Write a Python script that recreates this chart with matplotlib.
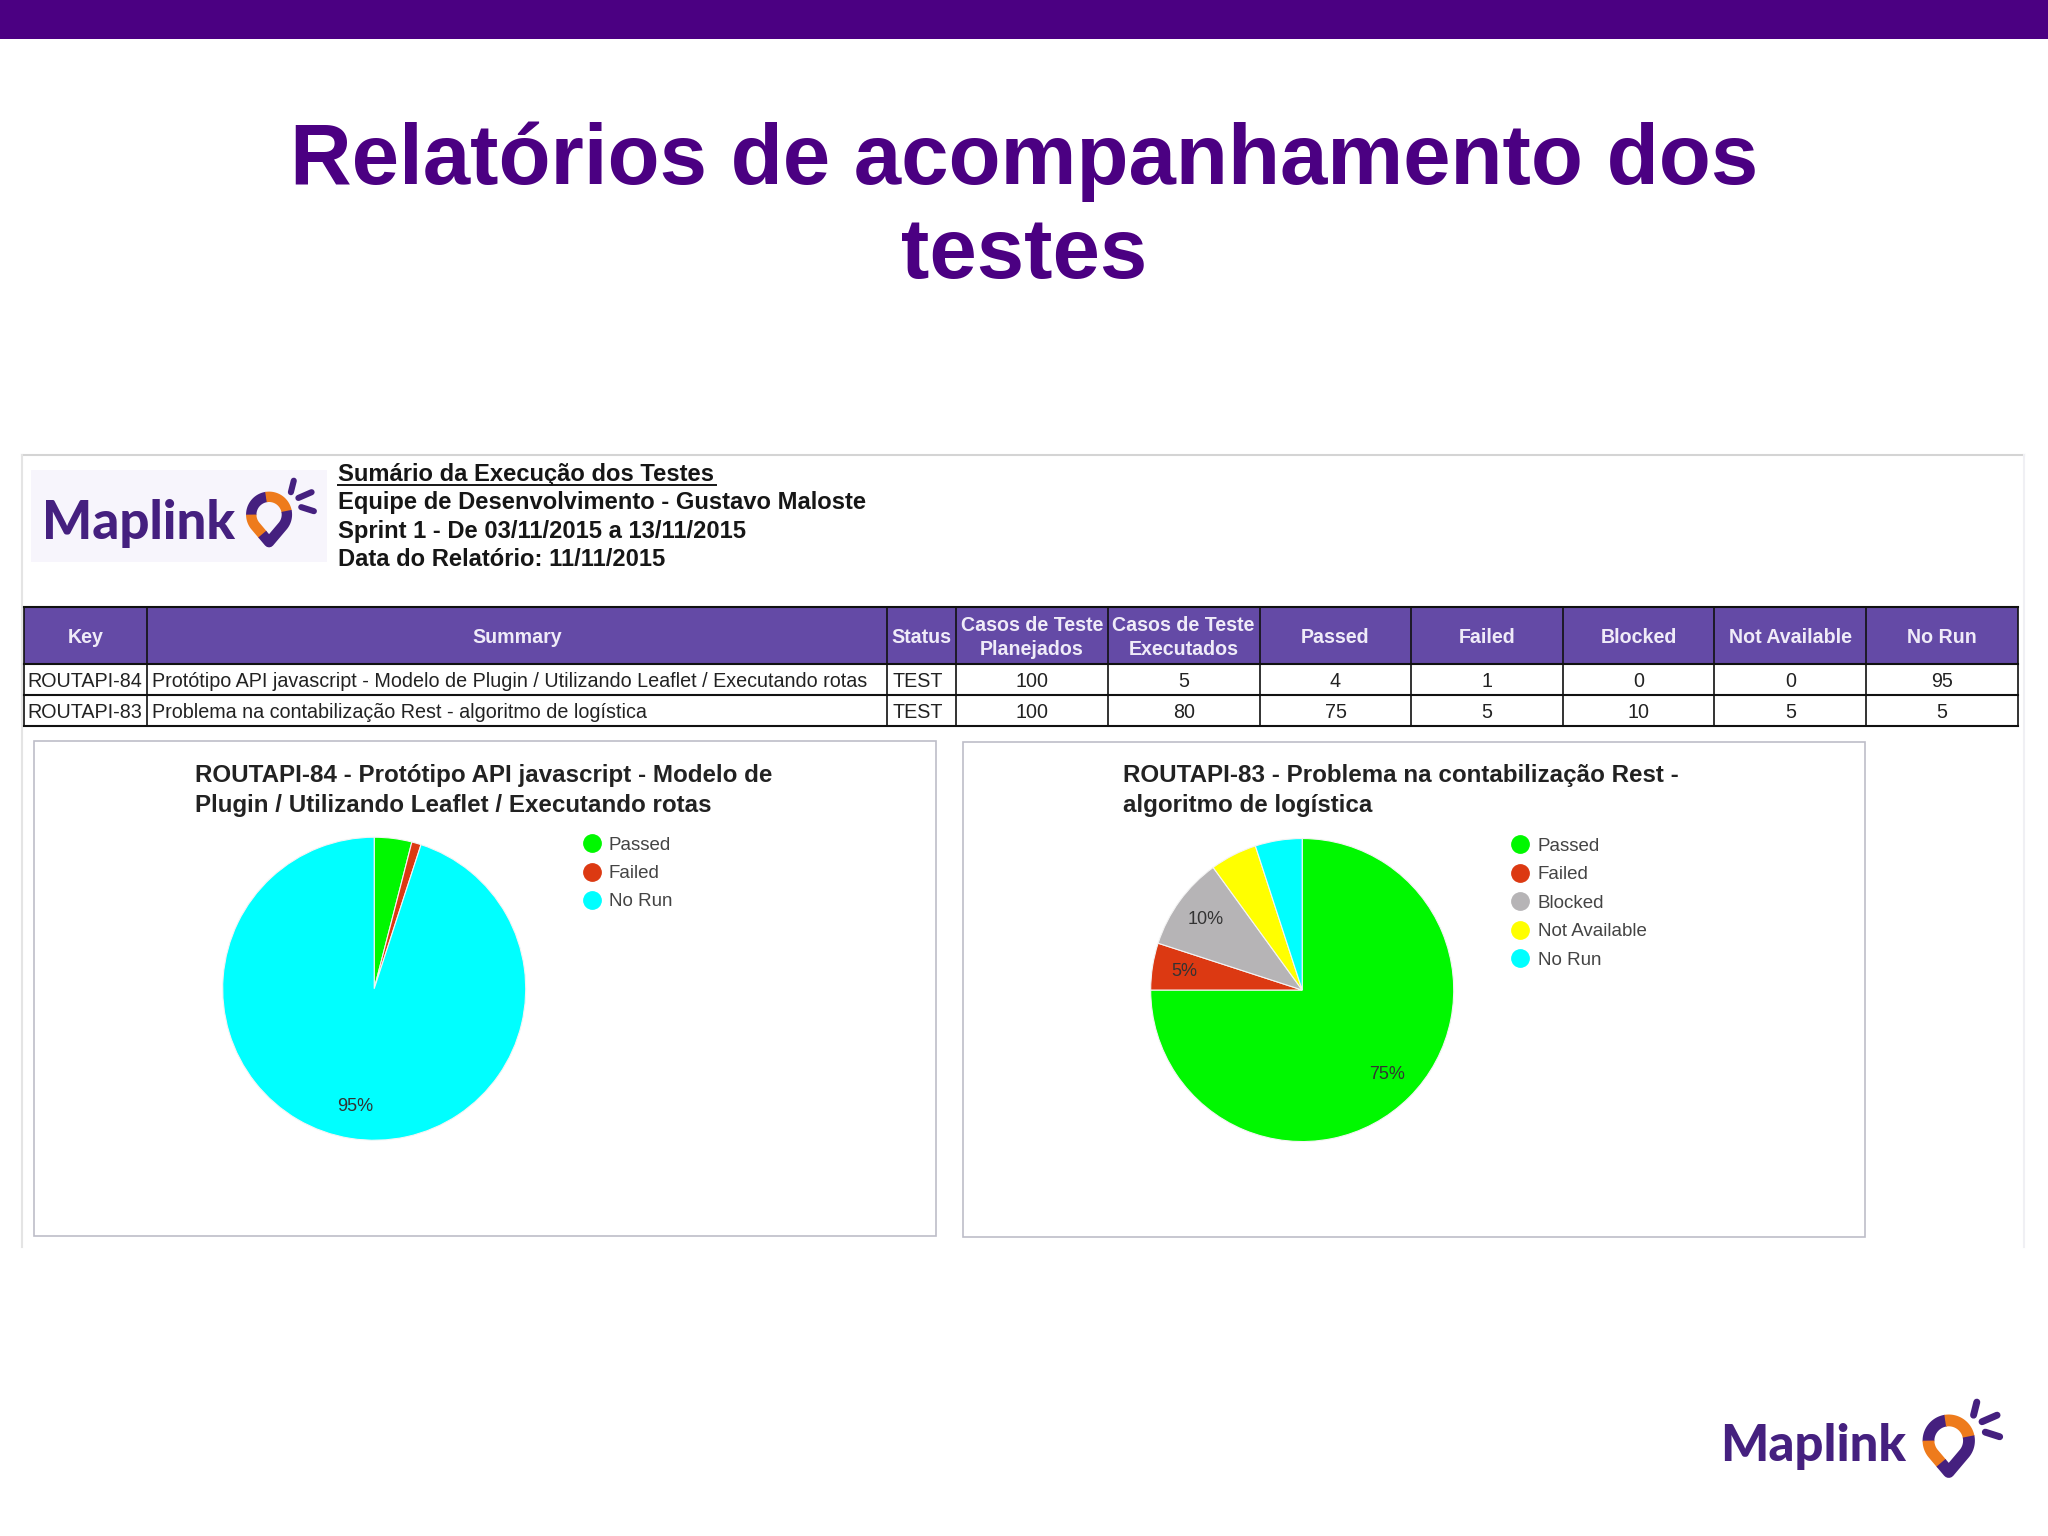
"""
slide with test report table and two pie charts
"""
import numpy as np
import matplotlib
matplotlib.use('Agg')
import matplotlib.pyplot as plt
from matplotlib.lines import Line2D
from matplotlib.patches import Rectangle

plt.rcParams['font.family'] = ['Liberation Sans', 'DejaVu Sans']

# text
slide_title = ['Relatórios de acompanhamento dos', 'testes']
report_lines = ['Sumário da Execução dos Testes',
                'Equipe de Desenvolvimento - Gustavo Maloste',
                'Sprint 1 - De 03/11/2015 a 13/11/2015',
                'Data do Relatório: 11/11/2015']
headers = ['Key', 'Summary', 'Status', 'Casos de Teste\nPlanejados', 'Casos de Teste\nExecutados',
           'Passed', 'Failed', 'Blocked', 'Not Available', 'No Run']
keys = ['ROUTAPI-84', 'ROUTAPI-83']
summaries = ['Protótipo API javascript - Modelo de Plugin / Utilizando Leaflet / Executando rotas',
             'Problema na contabilização Rest - algoritmo de logística']
statuses = ['TEST', 'TEST']
planned = [100, 100]
executed = [5, 80]
passed = [4, 75]
failed = [1, 5]
blocked = [0, 10]
not_available = [0, 5]
no_run = [95, 5]
chart_titles = ['ROUTAPI-84 - Protótipo API javascript - Modelo de\nPlugin / Utilizando Leaflet / Executando rotas',
                'ROUTAPI-83 - Problema na contabilização Rest -\nalgoritmo de logística']
status_names = ['Passed', 'Failed', 'Blocked', 'Not Available', 'No Run']
status_colors = ['#00F800', '#DC3912', '#B6B4B6', '#FFFF00', '#00FFFF']
# the slices that carry a percent label, per chart
labelled = [['No Run'], ['Passed', 'Failed', 'Blocked']]

PURPLE = '#4B0082'
LOGO = '#45207F'
ORANGE = '#EE7B1C'

W, H = 1568, 1176  # layout units, same shape as the figure
fig = plt.figure(figsize=(20.48, 15.36), dpi=100, facecolor='white')
ax = fig.add_axes([0, 0, 1, 1])
ax.set_xlim(0, W)
ax.set_ylim(H, 0)
ax.axis('off')


def rect(x0, y0, x1, y1, **kw):
    ax.add_patch(Rectangle((x0, y0), x1 - x0, y1 - y0, **kw))


def draw_logo(x0, base, size, cx, cy, s):
    ax.text(x0 - 2, base, 'Maplink', fontsize=size, fontweight='black', family='Lato',
            color=LOGO, ha='left', va='baseline')
    r = 15.5 * s
    tip = np.array([cx, cy + 24 * s])

    def arc(a0, a1):
        t = np.radians(np.linspace(a0, a1, 30))
        return np.column_stack([cx + r * np.sin(t), cy - r * np.cos(t)])

    def piece(pts, col):
        ax.plot(pts[:, 0], pts[:, 1], color=col, lw=8.5 * s, solid_capstyle='butt', solid_joinstyle='round')

    left = arc(230, 230)[0]
    piece(arc(268, 352), LOGO)
    piece(arc(350, 440), ORANGE)
    piece(np.vstack([tip + 0.45 * (left - tip), left, arc(230, 270)]), ORANGE)
    piece(np.vstack([arc(438, 490), tip, tip + 0.5 * (left - tip)]), LOGO)
    for a, b in [((21.5, -29.5), (19, -19.5)), ((25.5, -14.5), (37, -19.5)), ((28, -6.5), (39, -3))]:
        ax.plot([cx + a[0] * s, cx + b[0] * s], [cy + a[1] * s, cy + b[1] * s], color=LOGO,
                lw=5 * s, solid_capstyle='round')


# top band and title
rect(0, 0, W, 30, color=PURPLE, lw=0)
ax.text(784, 123.5, slide_title[0], fontsize=61.4, fontweight='bold', color=PURPLE, ha='center', va='center')
ax.text(784, 196, slide_title[1], fontsize=61.4, fontweight='bold', color=PURPLE, ha='center', va='center')

# screenshot edges
ax.plot([17, 1550], [348, 348], color='#D4D4D4', lw=1.5)
ax.plot([17, 17], [348, 955], color='#E4E4E4', lw=1.5)
ax.plot([1550, 1550], [348, 955], color='#F0F0F4', lw=1.5)

# report heading
rect(24, 360, 250, 430, color='#F7F5FC', lw=0)
draw_logo(34, 413, 38, 206, 394, 0.88)
for text, y in zip(report_lines, [363, 385, 407, 428.5]):
    ax.text(258.5, y, text, fontsize=17.1, fontweight='bold', color='#161616', ha='left', va='center')
ax.plot([259, 548], [371.5, 371.5], color='#161616', lw=1.4)

# table
col_x = [18, 112.5, 679, 732, 848, 964.5, 1080.5, 1196.5, 1312.5, 1429, 1545]
row_y = [465, 508, 532, 556]
rect(col_x[0], row_y[0], col_x[-1], row_y[1], facecolor='#644AA6', lw=0)
for x in col_x:
    ax.plot([x, x], [row_y[0], row_y[-1]], color='#111111', lw=1.2)
for y in row_y:
    ax.plot([col_x[0], col_x[-1]], [y, y], color='#111111', lw=1.5)
for i, h in enumerate(headers):
    ax.text((col_x[i] + col_x[i + 1]) / 2, 488, h, fontsize=14.1, fontweight='bold', color='#EFEBF8',
            ha='center', va='center', linespacing=1.33)

counts = np.array([planned, executed, passed, failed, blocked, not_available, no_run])
for r in range(len(keys)):
    yc = (row_y[r + 1] + row_y[r + 2]) / 2 + 1.5
    ax.text(21, yc, keys[r], fontsize=14.2, color='#222222', ha='left', va='center')
    ax.text(116.5, yc, summaries[r], fontsize=14.2, color='#222222', ha='left', va='center')
    ax.text(683.5, yc, statuses[r], fontsize=14.2, color='#222222', ha='left', va='center')
    for c in range(counts.shape[0]):
        ax.text((col_x[c + 3] + col_x[c + 4]) / 2, yc, str(counts[c, r]), fontsize=14.2, color='#222222',
                ha='center', va='center')

# charts
frames = [(26, 567, 717, 946), (737, 568, 1428, 947)]
centers = [(286.5, 757), (997, 758)]
title_pos = [(149, 605), (859.5, 605.5)]
legend_pos = [(443, 640.5), (1154, 641.5)]
radius = 116
for i in range(2):
    x0, y0, x1, y1 = frames[i]
    rect(x0, y0, x1, y1, facecolor='none', edgecolor='#BDBDC8', lw=1.2)
    ax.text(title_pos[i][0], title_pos[i][1], chart_titles[i], fontsize=17.4, fontweight='bold', color='#222222',
            ha='left', va='center', linespacing=1.38)

    values = [passed[i], failed[i], blocked[i], not_available[i], no_run[i]]
    names = [n for n, v in zip(status_names, values) if v > 0]
    colors = [c for c, v in zip(status_colors, values) if v > 0]
    shown = [v for v in values if v > 0]

    cx, cy = centers[i]
    pad = radius * 1.02
    pie_ax = fig.add_axes([(cx - pad) / W, 1 - (cy + pad) / H, 2 * pad / W, 2 * pad / H])
    pie_ax.patch.set_alpha(0)
    wedges, _, pct = pie_ax.pie(shown, colors=colors, startangle=90, counterclock=False,
                                autopct='%.0f%%', pctdistance=0.79,
                                wedgeprops={'edgecolor': '#F4F4F4', 'linewidth': 0.8},
                                textprops={'fontsize': 13, 'color': '#333333'})
    pie_ax.set_xlim(-1.02, 1.02)
    pie_ax.set_ylim(-1.02, 1.02)
    for name, t in zip(names, pct):
        t.set_visible(name in labelled[i])

    handles = [Line2D([], [], ls='none', marker='o', ms=12.5, color=c) for c in colors]
    lx, ly = legend_pos[i]
    fig.legend(handles, names, loc='upper left', bbox_to_anchor=(lx / W, 1 - ly / H), frameon=False,
               fontsize=13.5, labelcolor='#444444', handletextpad=0.22, labelspacing=0.6, borderpad=0,
               borderaxespad=0, handlelength=1.4)

draw_logo(1319, 1118.5, 36.5, 1492, 1103, 1.0)

fig.savefig('out.png', dpi=100)
